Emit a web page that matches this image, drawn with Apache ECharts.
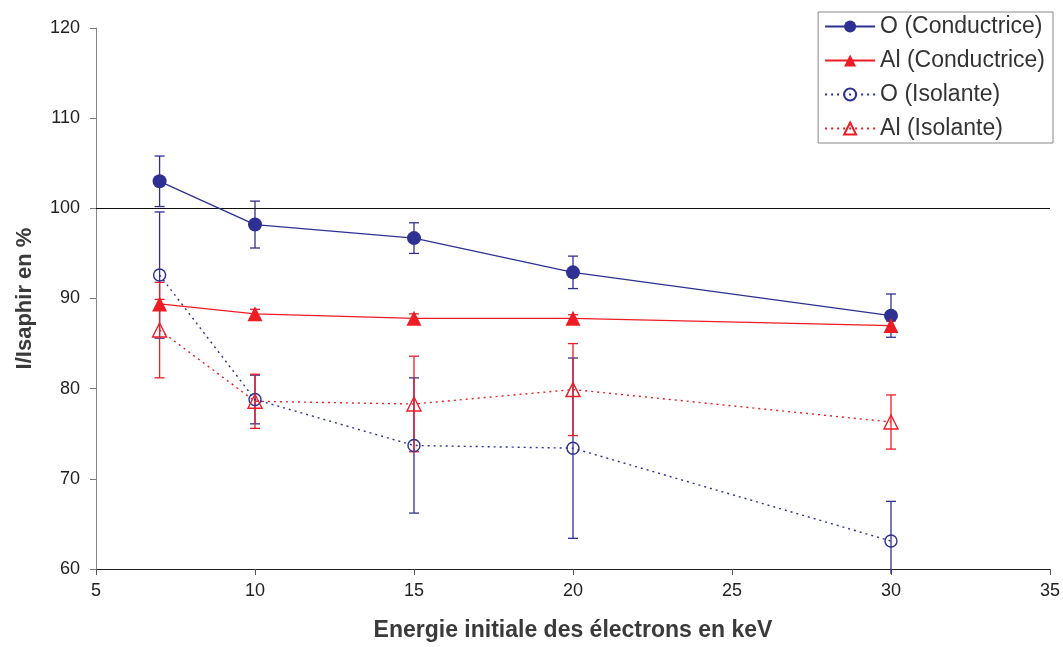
<!DOCTYPE html>
<html>
<head>
<meta charset="utf-8">
<script src="https://cdn.jsdelivr.net/npm/echarts@6/dist/echarts.min.js"></script>
<style>
  html, body { margin: 0; padding: 0; background: #fff; }
  #chart { width: 1063px; height: 647px; }
</style>
</head>
<body>
<div id="chart"></div>
<script>
// Energies (keV) and measured intensity ratios with their uncertainties
const energies = [7, 10, 15, 20, 30];

const oCondValues = [103.0, 98.2, 96.7, 92.9, 88.1];
const oCondErrors = [2.8, 2.6, 1.7, 1.8, 2.4];

const alCondValues = [89.4, 88.3, 87.8, 87.8, 87.0];
const alCondErrors = [0.5, 0.5, 0.5, 0.4, 0.5];

const oIsolValues = [92.6, 78.8, 73.7, 73.4, 63.1];
const oIsolErrors = [7.0, 2.7, 7.5, 10.0, 4.4];

const alIsolValues = [86.5, 78.6, 78.3, 79.9, 76.3];
const alIsolErrors = [5.3, 3.0, 5.3, 5.1, 3.0];

const seriesNames = ['O (Conductrice)', 'Al (Conductrice)', 'O (Isolante)', 'Al (Isolante)'];

const BLUE = '#2E3192';
const RED = '#EE1C25';
const FONT = 'Liberation Sans, Arial, sans-serif';

function pairs(values) {
  return energies.map((e, i) => [e, values[i]]);
}

function errorData(values, errors) {
  return energies.map((e, i) => [e, values[i] - errors[i], values[i] + errors[i]]);
}

// Vertical error bar with caps, drawn in axis coordinates
function errorBarSeries(name, values, errors, color, z) {
  return {
    type: 'custom',
    name: name,
    data: errorData(values, errors),
    z: z,
    silent: true,
    clip: false,
    renderItem: function (params, api) {
      const x = api.value(0);
      const top = api.coord([x, api.value(2)]);
      const bot = api.coord([x, api.value(1)]);
      const cs = params.coordSys;
      const maxY = cs.y + cs.height + 5;
      const half = 5;
      const children = [];
      const botY = Math.min(bot[1], maxY);
      children.push({ type: 'line', shape: { x1: top[0], y1: top[1], x2: top[0], y2: botY },
        style: { stroke: color, lineWidth: 1.3 } });
      children.push({ type: 'line', shape: { x1: top[0] - half, y1: top[1], x2: top[0] + half, y2: top[1] },
        style: { stroke: color, lineWidth: 1.3 } });
      if (bot[1] <= cs.y + cs.height) {
        children.push({ type: 'line', shape: { x1: bot[0] - half, y1: bot[1], x2: bot[0] + half, y2: bot[1] },
          style: { stroke: color, lineWidth: 1.3 } });
      }
      return { type: 'group', children: children };
    }
  };
}

const chart = echarts.init(document.getElementById('chart'), null, { renderer: 'canvas' });

chart.setOption({
  animation: false,
  backgroundColor: '#ffffff',
  textStyle: { fontFamily: FONT },
  grid: { left: 96, top: 28, right: 13, bottom: 73, containLabel: false },
  legend: {
    orient: 'vertical',
    right: 10,
    top: 12,
    padding: [3, 8, 3, 6],
    itemGap: 11,
    itemWidth: 50,
    itemHeight: 15,
    borderColor: '#888888',
    borderWidth: 1,
    backgroundColor: '#ffffff',
    textStyle: { fontFamily: FONT, fontSize: 23, color: '#333333' },
    data: seriesNames
  },
  xAxis: {
    type: 'value',
    min: 5,
    max: 35,
    interval: 5,
    name: 'Energie initiale des électrons en keV',
    nameLocation: 'middle',
    nameGap: 50,
    nameTextStyle: { fontFamily: FONT, fontSize: 23, fontWeight: 'bold', color: '#3a3a3a' },
    axisLine: { onZero: false, lineStyle: { color: '#222222', width: 1 } },
    axisTick: { show: true, inside: false, length: 6, lineStyle: { color: '#555555' } },
    axisLabel: { fontFamily: FONT, fontSize: 18, color: '#222222', margin: 13 },
    splitLine: { show: false }
  },
  yAxis: {
    type: 'value',
    min: 60,
    max: 120,
    interval: 10,
    name: 'I/Isaphir en %',
    nameLocation: 'middle',
    nameGap: 60,
    nameTextStyle: { fontFamily: FONT, fontSize: 22, fontWeight: 'bold', color: '#3a3a3a' },
    axisLine: { show: true, lineStyle: { color: '#888888', width: 1 } },
    axisTick: { show: true, inside: false, length: 6, lineStyle: { color: '#777777' } },
    axisLabel: { fontFamily: FONT, fontSize: 18, color: '#222222', margin: 16 },
    splitLine: { show: false }
  },
  series: [
    errorBarSeries('O (Isolante) err', oIsolValues, oIsolErrors, BLUE, 2),
    errorBarSeries('Al (Isolante) err', alIsolValues, alIsolErrors, RED, 2),
    errorBarSeries('O (Conductrice) err', oCondValues, oCondErrors, BLUE, 3),
    errorBarSeries('Al (Conductrice) err', alCondValues, alCondErrors, RED, 3),
    {
      name: seriesNames[0],
      type: 'line',
      data: pairs(oCondValues),
      symbol: 'circle',
      symbolSize: 14,
      z: 6,
      itemStyle: { color: BLUE },
      lineStyle: { color: BLUE, width: 1.3 },
      markLine: {
        silent: true,
        symbol: 'none',
        label: { show: false },
        lineStyle: { color: '#111111', width: 1.2, type: 'solid' },
        data: [{ yAxis: 100 }]
      }
    },
    {
      name: seriesNames[1],
      type: 'line',
      data: pairs(alCondValues),
      symbol: 'triangle',
      symbolSize: 15,
      z: 6,
      itemStyle: { color: RED },
      lineStyle: { color: RED, width: 1.3 }
    },
    {
      name: seriesNames[2],
      type: 'line',
      data: pairs(oIsolValues),
      symbol: 'circle',
      symbolSize: 12,
      z: 5,
      itemStyle: { color: 'rgba(255,255,255,0)', borderColor: BLUE, borderWidth: 1.4 },
      lineStyle: { color: BLUE, width: 1.4, type: [2, 4] }
    },
    {
      name: seriesNames[3],
      type: 'line',
      data: pairs(alIsolValues),
      symbol: 'triangle',
      symbolSize: 14,
      z: 5,
      itemStyle: { color: 'rgba(255,255,255,0)', borderColor: RED, borderWidth: 1.4 },
      lineStyle: { color: RED, width: 1.4, type: [2, 4] }
    }
  ]
});
</script>
</body>
</html>
